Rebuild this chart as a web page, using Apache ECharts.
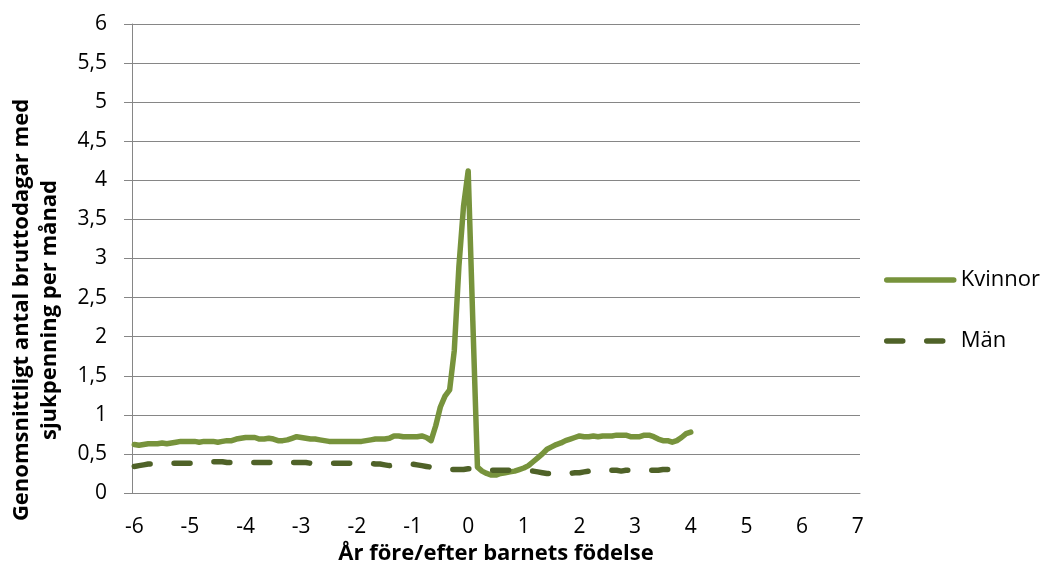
<!DOCTYPE html>
<html>
<head>
<meta charset="utf-8">
<script src="https://cdn.jsdelivr.net/npm/echarts@6/dist/echarts.min.js"></script>
<style>
  html, body { margin: 0; padding: 0; background: #fff; overflow: hidden; }
  #chart { width: 1044px; height: 561px; }
</style>
</head>
<body>
<div id="chart"></div>
<script>
// Year labels on the horizontal axis (one label per 12 months)
const yearLabels = ['-6', '-5', '-4', '-3', '-2', '-1', '0', '1', '2', '3', '4', '5', '6', '7'];

// Average gross sickness-benefit days per month, months -72 .. +48 around the birth
const kvinnor = [
  0.62, 0.61, 0.62, 0.63, 0.63, 0.63, 0.64, 0.63, 0.64, 0.65, 0.66, 0.66,
  0.66, 0.66, 0.65, 0.66, 0.66, 0.66, 0.65, 0.66, 0.67, 0.67, 0.69, 0.70,
  0.71, 0.71, 0.71, 0.69, 0.69, 0.70, 0.69, 0.67, 0.67, 0.68, 0.70, 0.72,
  0.71, 0.70, 0.69, 0.69, 0.68, 0.67, 0.66, 0.66, 0.66, 0.66, 0.66, 0.66,
  0.66, 0.66, 0.67, 0.68, 0.69, 0.69, 0.69, 0.70, 0.73, 0.73, 0.72, 0.72,
  0.72, 0.72, 0.73, 0.71, 0.67, 0.86, 1.10, 1.24, 1.32, 1.82, 2.90, 3.67,
  4.12, 2.20, 0.33, 0.28, 0.25, 0.23, 0.23, 0.25, 0.26, 0.27, 0.28, 0.30,
  0.32, 0.35, 0.40, 0.45, 0.50, 0.56, 0.59, 0.62, 0.64, 0.67, 0.69, 0.71,
  0.73, 0.72, 0.72, 0.73, 0.72, 0.73, 0.73, 0.73, 0.74, 0.74, 0.74, 0.72,
  0.72, 0.72, 0.74, 0.74, 0.72, 0.69, 0.67, 0.67, 0.65, 0.67, 0.71, 0.76,
  0.78
];

const man = [
  0.34, 0.35, 0.36, 0.37, 0.37, 0.38, 0.38, 0.38, 0.38, 0.38, 0.38, 0.38,
  0.38, 0.38, 0.39, 0.39, 0.39, 0.40, 0.40, 0.40, 0.39, 0.39, 0.39, 0.39,
  0.39, 0.39, 0.39, 0.39, 0.39, 0.39, 0.39, 0.38, 0.38, 0.38, 0.39, 0.39,
  0.39, 0.39, 0.38, 0.38, 0.38, 0.38, 0.38, 0.38, 0.38, 0.38, 0.38, 0.38,
  0.38, 0.38, 0.38, 0.38, 0.37, 0.37, 0.36, 0.35, 0.36, 0.36, 0.37, 0.37,
  0.37, 0.36, 0.35, 0.34, 0.33, 0.32, 0.31, 0.30, 0.30, 0.30, 0.30, 0.30,
  0.31, 0.31, 0.30, 0.29, 0.29, 0.29, 0.29, 0.29, 0.29, 0.29, 0.29, 0.28,
  0.28, 0.28, 0.28, 0.27, 0.26, 0.25, 0.25, 0.24, 0.24, 0.24, 0.25, 0.26,
  0.26, 0.27, 0.28, 0.29, 0.30, 0.30, 0.29, 0.29, 0.29, 0.28, 0.29, 0.29,
  0.29, 0.29, 0.29, 0.29, 0.29, 0.29, 0.30, 0.30, 0.30, 0.31, 0.32, 0.33,
  0.34
];

// Monthly categories: the first month of each year carries the year label
const months = [];
yearLabels.forEach(function (label, i) {
  months.push(label);
  if (i < yearLabels.length - 1) {
    for (let k = 0; k < 11; k++) months.push('');
  }
});

const FONT = '"Open Sans", sans-serif';
const GRID_GREY = '#868686';
const GREEN = '#77933C';
const DARK_GREEN = '#4F6228';

const chart = echarts.init(document.getElementById('chart'), null, { renderer: 'canvas' });

chart.setOption({
  animation: false,
  backgroundColor: '#ffffff',
  grid: {
    left: 132, right: 184, top: 24, bottom: 68,
    containLabel: false,
    outerBoundsMode: 'none'
  },
  legend: {
    orient: 'vertical',
    left: 879,
    top: 264,
    itemWidth: 67,
    itemHeight: 14,
    itemGap: 39,
    itemStyle: { color: 'transparent', borderColor: 'transparent', borderWidth: 0, opacity: 0 },
    lineStyle: { width: 5.5, cap: 'round' },
    textStyle: { fontFamily: FONT, fontSize: 22, color: '#000000', padding: [0, 0, 0, 2] },
    data: ['Kvinnor', 'Män']
  },
  xAxis: {
    type: 'category',
    data: months,
    boundaryGap: true,
    axisLine: { lineStyle: { color: GRID_GREY, width: 1 } },
    axisTick: { interval: 0, length: 7, lineStyle: { color: GRID_GREY } },
    axisLabel: {
      interval: 0,
      margin: 24,
      fontFamily: FONT,
      fontSize: 21,
      color: '#000000'
    },
    splitLine: { show: false },
    name: 'År före/efter barnets födelse',
    nameLocation: 'middle',
    nameGap: 44,
    nameTextStyle: { fontFamily: FONT, fontSize: 22, fontWeight: 'bold', color: '#000000' }
  },
  yAxis: {
    type: 'value',
    min: 0,
    max: 6,
    interval: 0.5,
    axisLine: { show: true, lineStyle: { color: GRID_GREY, width: 1 } },
    axisTick: { show: true, length: 8, lineStyle: { color: GRID_GREY } },
    axisLabel: {
      margin: 25,
      fontFamily: FONT,
      fontSize: 21,
      color: '#000000',
      formatter: function (v) { return String(v).replace('.', ','); }
    },
    splitLine: { show: true, lineStyle: { color: GRID_GREY, width: 1 } }
  },
  graphic: [{
    type: 'text',
    x: 36,
    y: 310,
    rotation: Math.PI / 2,
    style: {
      text: 'Genomsnittligt antal bruttodagar med\nsjukpenning per månad',
      font: 'bold 22px "Open Sans", sans-serif',
      fill: '#000000',
      align: 'center',
      verticalAlign: 'middle',
      lineHeight: 28
    }
  }],
  series: [
    {
      name: 'Kvinnor',
      type: 'line',
      data: kvinnor,
      symbol: 'none',
      showSymbol: false,
      smooth: false,
      lineStyle: { color: GREEN, width: 5.5, cap: 'round', join: 'round' },
      itemStyle: { color: GREEN }
    },
    {
      name: 'Män',
      type: 'line',
      data: man,
      symbol: 'none',
      showSymbol: false,
      smooth: false,
      lineStyle: { color: DARK_GREEN, width: 5.5, type: [16, 24], cap: 'round', join: 'round' },
      itemStyle: { color: DARK_GREEN }
    }
  ]
});
</script>
</body>
</html>
